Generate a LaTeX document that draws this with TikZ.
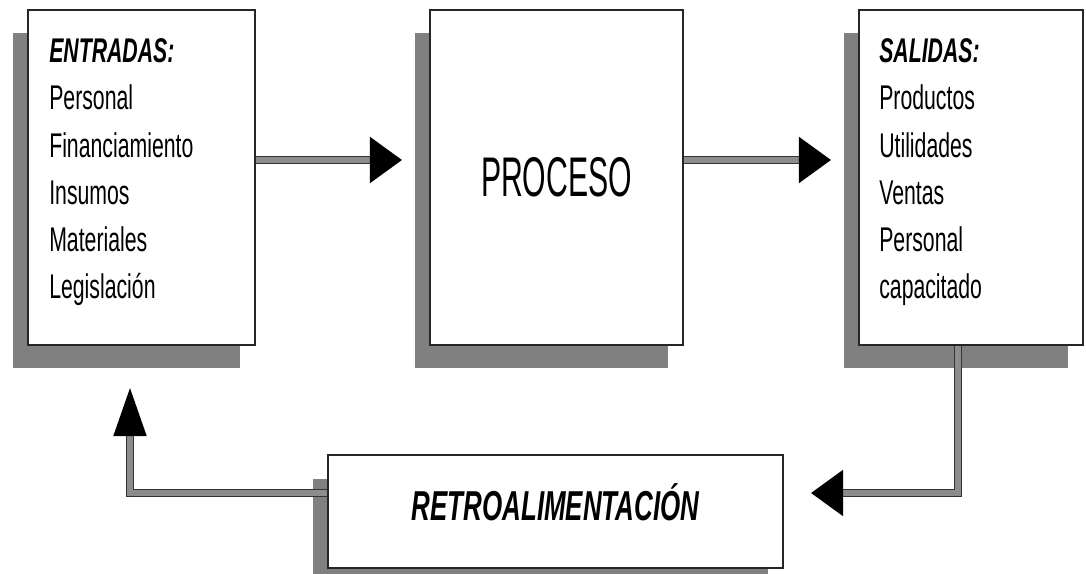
\documentclass[tikz,border=0pt]{standalone}
\usepackage{fontspec}
\setmainfont{Liberation Sans}
\newfontfamily\estrecha{Liberation Sans}[FakeStretch=0.62]
\newfontfamily\masestrecha{Liberation Sans}[FakeStretch=0.54]
\usetikzlibrary{shadows,arrows.meta}

\tikzset{
  caja/.style={draw=black!85, line width=1.2pt, fill=white,
    drop shadow={shadow xshift=-0.31cm, shadow yshift=-0.47cm, fill=black!50, opacity=1}},
  lista/.style={anchor=base west, align=left, inner sep=0pt,
    font=\estrecha\fontsize{19.5}{26.9}\selectfont},
  flecha/.style={draw=black!80, line width=1pt, double=black!45, double distance=3pt},
  puntah/.style={-{Triangle[length=0.64cm,width=0.92cm,color=black]}},
  puntav/.style={-{Triangle[length=0.96cm,width=0.66cm,color=black]}}
}

\begin{document}
\begin{tikzpicture}
    \useasboundingbox (0,0) rectangle (21.72,11.46);

    %% cajas
    \node[caja, minimum width=4.54cm, minimum height=6.7cm] (ent) at (2.83,7.91) {};
    \node[caja, minimum width=5.06cm, minimum height=6.7cm,
          font=\masestrecha\fontsize{31.8}{36}\selectfont] (pro) at (11.13,7.91) {PROCESO};
    \node[caja, minimum width=4.48cm, minimum height=6.7cm] (sal) at (19.42,7.91) {};
    \node[caja, minimum width=9.1cm, minimum height=2.26cm] (ret) at (11.11,1.23) {};

    %% textos (base = ultima linea)
    \node[lista] (txent) at ([shift={(0.44,-5.8)}]ent.north west)
        {\textbf{\textit{ENTRADAS:}}\\Personal\\Financiamiento\\Insumos\\Materiales\\Legislación};
    \node[lista] (txsal) at ([shift={(0.42,-5.8)}]sal.north west)
        {\textbf{\textit{SALIDAS:}}\\Productos\\Utilidades\\Ventas\\Personal\\capacitado};
    \node[inner sep=0pt, anchor=base, font=\estrecha\fontsize{23.8}{28}\selectfont\bfseries\itshape]
        (txret) at ([yshift=-0.17cm]ret.center) {RETROALIMENTACIÓN};

    %% flechas
    \draw[flecha, puntah, shorten >=0.54cm] ([yshift=0.35cm]ent.east) -- ([yshift=0.35cm]pro.west);
    \draw[flecha, puntah, shorten >=0.54cm] ([yshift=0.35cm]pro.east) -- ([yshift=0.35cm]sal.west);

    % retroalimentacion
    \draw[flecha, puntah, shorten >=0.54cm] ([xshift=-0.26cm]sal.south) |- ([yshift=0.37cm]ret.east);
    \draw[flecha, puntav, shorten >=0.84cm] ([yshift=0.37cm]ret.west) -| ([xshift=-0.23cm]ent.south);

\end{tikzpicture}
\end{document}
